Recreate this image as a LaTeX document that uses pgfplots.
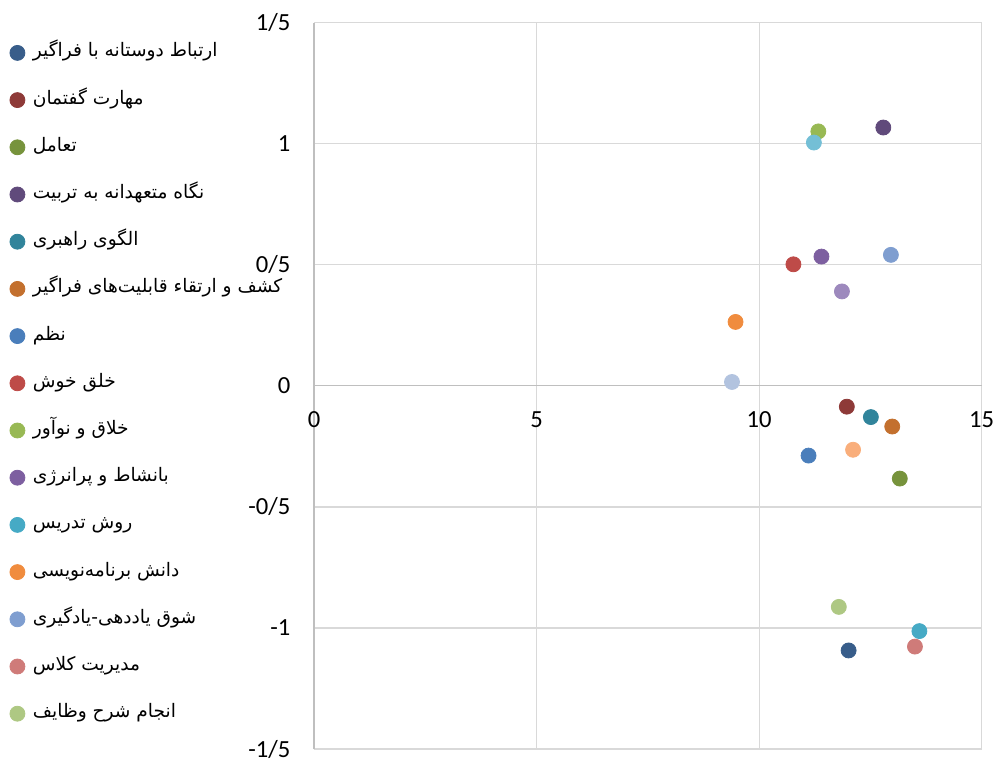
\documentclass[border=0pt]{standalone}
\usepackage{pgfplots}
\pgfplotsset{compat=1.18}
\usepackage{fontspec}
\setmainfont{Carlito}
\newfontfamily\arabicfont[Script=Arabic]{DejaVu Sans}
\TeXXeTstate=1
\definecolor{c1}{HTML}{385D8A}
\definecolor{c2}{HTML}{8E3A38}
\definecolor{c3}{HTML}{77933C}
\definecolor{c4}{HTML}{604A7B}
\definecolor{c5}{HTML}{31849B}
\definecolor{c6}{HTML}{C3702E}
\definecolor{c7}{HTML}{4A7EBB}
\definecolor{c8}{HTML}{BE4B48}
\definecolor{c9}{HTML}{98B954}
\definecolor{c10}{HTML}{7D5FA0}
\definecolor{c11}{HTML}{46AAC5}
\definecolor{c12}{HTML}{F08C3E}
\definecolor{c13}{HTML}{7F9ED0}
\definecolor{c14}{HTML}{CF7B79}
\definecolor{c15}{HTML}{AEC883}
\definecolor{c16}{HTML}{9D89BD}
\definecolor{c17}{HTML}{74BFD6}
\definecolor{c18}{HTML}{F9AE7B}
\definecolor{c19}{HTML}{B2C3DF}
\newcommand{\fa}[1]{{\arabicfont\fontsize{9.3}{11}\selectfont\beginR #1\endR}}
\begin{document}
\begin{tikzpicture}
\useasboundingbox (0,0) rectangle (497pt,380pt);
\begin{axis}[
  at={(157pt,5.5pt)}, anchor=south west,
  scale only axis, width=333.85pt, height=363.15pt,
  xmin=0, xmax=15, ymin=-1.5, ymax=1.5,
  enlargelimits=false,
  axis x line=middle, axis y line=left,
  axis line style={-, draw=black!25, line width=0.6pt},
  hide obscured x ticks=false, hide obscured y ticks=false,
  xtick={0,5,10,15}, xticklabels={0,5,10,15},
  ytick={-1.5,-1,-0.5,0,0.5,1,1.5},
  yticklabels={-1/5,-1,-0/5,0,0/5,1,1/5},
  major tick length=0pt,
  grid=major, major grid style={draw=black!15, line width=0.6pt},
  tick label style={font=\fontsize{12.3}{14}\selectfont},
  xticklabel style={yshift=-9.5pt},
  yticklabel style={inner sep=1pt, xshift=-10.6pt},
  clip=false,
  legend style={draw=none, fill=none, at={(-0.465,0.981)}, anchor=north west,
    nodes={inner sep=0pt, text height=8pt, text depth=4pt}, row sep=11.6pt,
    column sep=4pt},
  legend cell align=left,
  legend image code/.code={\draw[#1] plot coordinates {(0pt,0pt)};},
]
\addplot[only marks, mark=*, mark size=3.75pt, color=c1] coordinates {(12.01,-1.093)};
\addlegendentry{\fa{ارتباط دوستانه با فراگیر}}
\addplot[only marks, mark=*, mark size=3.75pt, color=c2] coordinates {(11.97,-0.086)};
\addlegendentry{\fa{مهارت گفتمان}}
\addplot[only marks, mark=*, mark size=3.75pt, color=c3] coordinates {(13.16,-0.383)};
\addlegendentry{\fa{تعامل}}
\addplot[only marks, mark=*, mark size=3.75pt, color=c4] coordinates {(12.79,1.067)};
\addlegendentry{\fa{نگاه متعهدانه به تربیت}}
\addplot[only marks, mark=*, mark size=3.75pt, color=c5] coordinates {(12.51,-0.129)};
\addlegendentry{\fa{الگوی راهبری}}
\addplot[only marks, mark=*, mark size=3.75pt, color=c6] coordinates {(12.99,-0.168)};
\addlegendentry{\fa{کشف و ارتقاء قابلیت‌های فراگیر}}
\addplot[only marks, mark=*, mark size=3.75pt, color=c7] coordinates {(11.11,-0.288)};
\addlegendentry{\fa{نظم}}
\addplot[only marks, mark=*, mark size=3.75pt, color=c8] coordinates {(10.77,0.502)};
\addlegendentry{\fa{خلق خوش}}
\addplot[only marks, mark=*, mark size=3.75pt, color=c9] coordinates {(11.33,1.051)};
\addlegendentry{\fa{خلاق و نوآور}}
\addplot[only marks, mark=*, mark size=3.75pt, color=c10] coordinates {(11.40,0.534)};
\addlegendentry{\fa{بانشاط و پرانرژی}}
\addplot[only marks, mark=*, mark size=3.75pt, color=c11] coordinates {(13.60,-1.013)};
\addlegendentry{\fa{روش تدریس}}
\addplot[only marks, mark=*, mark size=3.75pt, color=c12] coordinates {(9.47,0.264)};
\addlegendentry{\fa{دانش برنامه‌نویسی}}
\addplot[only marks, mark=*, mark size=3.75pt, color=c13] coordinates {(12.96,0.541)};
\addlegendentry{\fa{شوق یاددهی-یادگیری}}
\addplot[only marks, mark=*, mark size=3.75pt, color=c14] coordinates {(13.50,-1.077)};
\addlegendentry{\fa{مدیریت کلاس}}
\addplot[only marks, mark=*, mark size=3.75pt, color=c15] coordinates {(11.79,-0.913)};
\addlegendentry{\fa{انجام شرح وظایف}}
\addplot[only marks, mark=*, mark size=3.75pt, color=c16, forget plot] coordinates {(11.86,0.390)};
\addplot[only marks, mark=*, mark size=3.75pt, color=c17, forget plot] coordinates {(11.23,1.005)};
\addplot[only marks, mark=*, mark size=3.75pt, color=c18, forget plot] coordinates {(12.11,-0.264)};
\addplot[only marks, mark=*, mark size=3.75pt, color=c19, forget plot] coordinates {(9.39,0.016)};
\end{axis}
\end{tikzpicture}
\end{document}
